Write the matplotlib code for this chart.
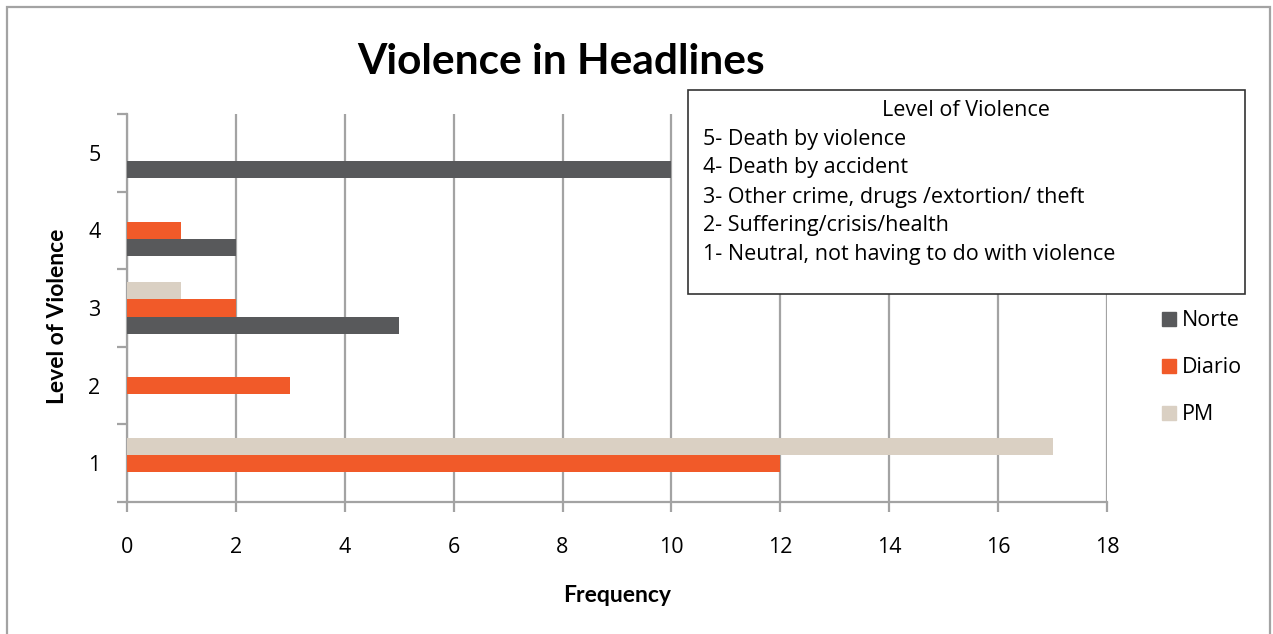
import matplotlib.pyplot as plt
from matplotlib.patches import Rectangle
from matplotlib.lines import Line2D

# headline counts per level of violence
levels = [1, 2, 3, 4, 5]
norte = [0, 0, 5, 2, 10]
diario = [12, 3, 2, 1, 0]
pm = [17, 0, 1, 0, 0]

series = ["Norte", "Diario", "PM"]
colors = ["#58595b", "#f15a29", "#dad0c3"]

key_title = "Level of Violence"
key_lines = ["5- Death by violence",
             "4- Death by accident",
             "3- Other crime, drugs /extortion/ theft",
             "2- Suffering/crisis/health",
             "1- Neutral, not having to do with violence"]

body = "Open Sans"
head = "Lato"
grey = "#a3a3a3"

fig = plt.figure(figsize=(12.73, 6.34), dpi=100)
ax = fig.add_axes([127 / 1273, 1 - 502 / 634, 980 / 1273, 388 / 634])

h = 0.22
offsets = [-h, 0, h]
for vals, off, c, name in zip([norte, diario, pm], offsets, colors, series):
    ax.barh([l + off for l in levels], vals, height=h, color=c, label=name, zorder=3)

ax.set_xlim(0, 18)
ax.set_ylim(0.5, 5.5)
ax.set_xticks(range(0, 19, 2))
ax.set_yticks([l - 0.5 for l in levels] + [5.5])
ax.set_yticklabels([])
ax.set_yticks(levels, minor=True)
ax.set_yticklabels([str(l) for l in levels], minor=True)
ax.tick_params(axis="y", which="minor", length=0, pad=19, labelsize=15.5)
ax.tick_params(axis="y", which="major", length=7, width=1.6, color=grey, direction="out")
ax.tick_params(axis="x", length=7, width=1.6, color=grey, pad=18, labelsize=15.5)
for lab in ax.get_xticklabels() + ax.get_yticklabels(minor=True):
    lab.set_fontfamily(body)

ax.grid(axis="x", color=grey, linewidth=1.6, zorder=0)
ax.set_axisbelow(True)
for s in ["top", "right"]:
    ax.spines[s].set_visible(False)
for s in ["left", "bottom"]:
    ax.spines[s].set_color(grey)
    ax.spines[s].set_linewidth(1.6)

fig.text(561 / 1273, 1 - 62 / 634, "Violence in Headlines", ha="center", va="center",
         fontsize=30.5, fontweight="bold", family=head)
fig.text(617 / 1273, 1 - 595 / 634, "Frequency", ha="center", va="center",
         fontsize=16.5, fontweight="bold", family=head)
fig.text(58 / 1273, 1 - 316 / 634, "Level of Violence", ha="center", va="center",
         rotation=90, fontsize=16.5, fontweight="bold", family=head)

# explanation box for the level codes
box = Rectangle((688 / 1273, 1 - 294 / 634), 557 / 1273, 204 / 634,
                transform=fig.transFigure, facecolor="white", edgecolor="#333333",
                linewidth=1.2, zorder=5)
fig.patches.append(box)
fig.text(966 / 1273, 1 - 110 / 634, key_title, ha="center", va="center",
         fontsize=15.5, family=body, zorder=6)
for i, line in enumerate(key_lines):
    fig.text(703 / 1273, 1 - (139 + 29 * i) / 634, line, ha="left", va="center",
             fontsize=15.5, family=body, zorder=6)

# series legend
handles = [Line2D([], [], marker="s", linestyle="none", markersize=10.5,
                  markerfacecolor=c, markeredgecolor=c) for c in colors]
leg = fig.legend(handles, series, loc="upper left", bbox_to_anchor=(1141 / 1273, 1 - 291 / 634),
                 frameon=False, handlelength=0.8, handletextpad=0.2, labelspacing=1.2,
                 prop={"family": body, "size": 15.5})

# outer frame
fig.patches.append(Rectangle((7 / 1273, -0.01), 1263 / 1273, 1 - 7 / 634 + 0.01,
                             transform=fig.transFigure, fill=False, edgecolor=grey,
                             linewidth=1.6))

fig.savefig("out.png", dpi=100)
